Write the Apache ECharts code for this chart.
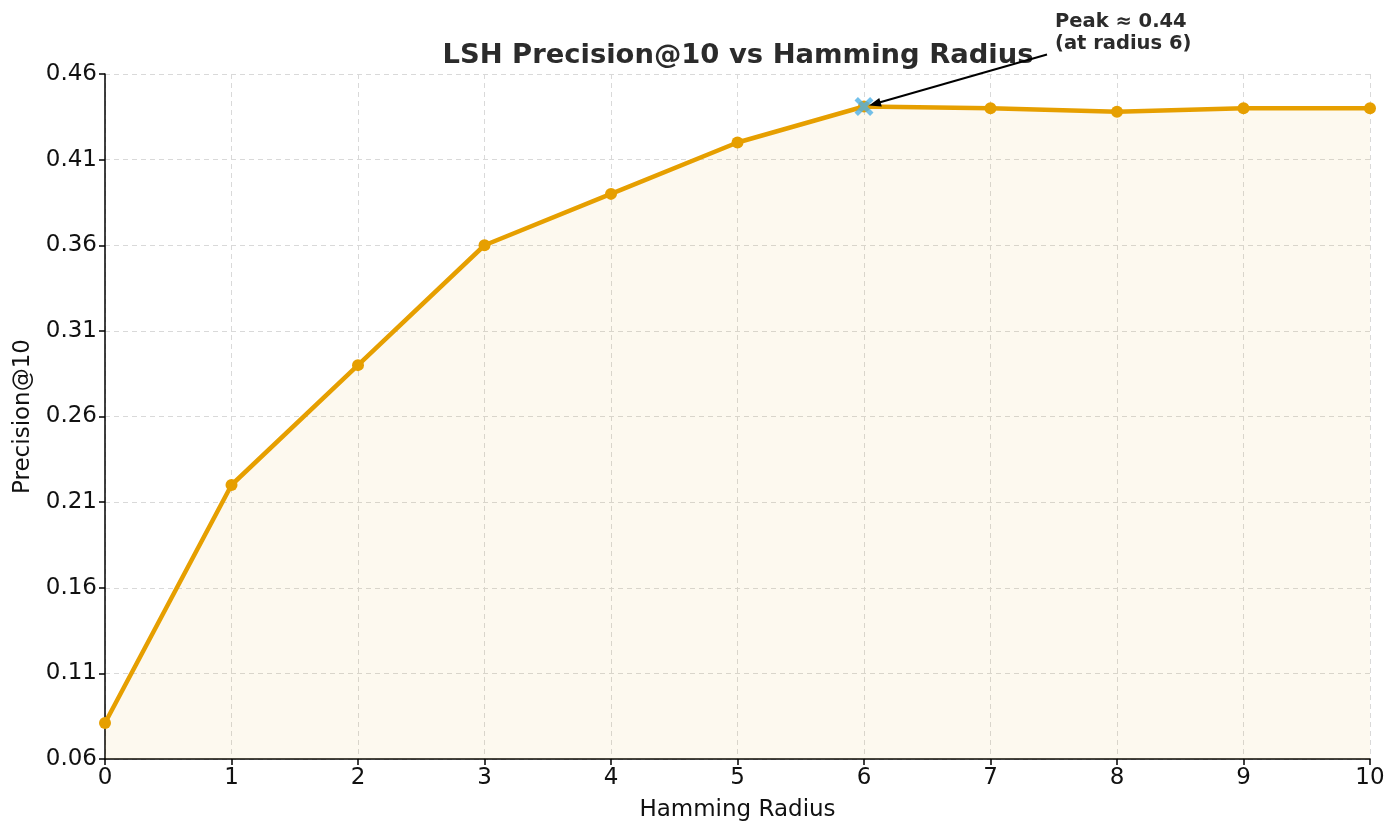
<!DOCTYPE html>
<html>
<head>
<meta charset="utf-8">
<script src="https://cdn.jsdelivr.net/npm/echarts@6/dist/echarts.min.js"></script>
<style>
  html, body { margin: 0; padding: 0; background: #fff; }
  #chart { width: 1400px; height: 835px; }
</style>
</head>
<body>
<div id="chart"></div>
<script>
// data
const radius = [0, 1, 2, 3, 4, 5, 6, 7, 8, 9, 10];
const precision = [0.081, 0.220, 0.290, 0.360, 0.390, 0.420, 0.441, 0.440, 0.438, 0.440, 0.440];
const peakIndex = 6;
const peakText = 'Peak ≈ 0.44\n(at radius 6)';

const font = 'DejaVu Sans';
const chart = echarts.init(document.getElementById('chart'));

chart.setOption({
    animation: false,
    backgroundColor: '#fff',
    title: {
        text: 'LSH Precision@10 vs Hamming Radius',
        left: 733, top: 37, textAlign: 'center',
        textStyle: {fontFamily: font, fontSize: 27.4, fontWeight: 'bold', color: '#2b2b2b'}
    },
    grid: {left: 105, right: 30, top: 74, bottom: 76, containLabel: false, outerBoundsMode: 'none'},
    xAxis: {
        type: 'value', min: 0, max: 10, interval: 1,
        name: 'Hamming Radius', nameLocation: 'middle', nameGap: 40,
        nameTextStyle: {fontFamily: font, fontSize: 23, color: '#111'},
        axisLine: {onZero: false, lineStyle: {color: '#000', width: 1.5}},
        axisTick: {show: true, length: 6, lineStyle: {color: '#000', width: 1.5}},
        axisLabel: {fontFamily: font, fontSize: 23, color: '#111', margin: 8},
        splitLine: {show: true, lineStyle: {color: '#d9d9d9', type: [5, 4], width: 1}}
    },
    yAxis: {
        type: 'value', min: 0.06, max: 0.46, interval: 0.05,
        name: 'Precision@10', nameLocation: 'middle', nameGap: 65,
        nameTextStyle: {fontFamily: font, fontSize: 23, color: '#111'},
        axisLine: {show: true, lineStyle: {color: '#000', width: 1.5}},
        axisTick: {show: true, length: 6, lineStyle: {color: '#000', width: 1.5}},
        axisLabel: {fontFamily: font, fontSize: 23, color: '#111', margin: 8,
            formatter: v => v.toFixed(2)},
        splitLine: {show: true, lineStyle: {color: '#d9d9d9', type: [5, 4], width: 1}}
    },
    series: [
        {
            type: 'line',
            data: radius.map((r, i) => [r, precision[i]]),
            symbol: 'circle', symbolSize: 12,
            lineStyle: {color: '#E69F00', width: 4.5},
            itemStyle: {color: '#E69F00'},
            areaStyle: {color: 'rgba(230,159,0,0.09)', origin: 'start'},
            z: 3
        },
        {
            type: 'scatter',
            data: [[radius[peakIndex], precision[peakIndex]]],
            symbol: 'path://M1.8,0 L5,3.2 L8.2,0 L10,1.8 L6.8,5 L10,8.2 L8.2,10 L5,6.8 L1.8,10 L0,8.2 L3.2,5 L0,1.8 Z',
            symbolSize: 19,
            itemStyle: {color: '#4FB0E6'},
            z: 5
        }
    ]
});

// annotation arrow + text
const p = chart.convertToPixel({gridIndex: 0}, [radius[peakIndex], precision[peakIndex]]);
const start = [p[0] + 183, p[1] - 52];
const end = [p[0] + 5, p[1] - 1];
const ang = Math.atan2(end[1] - start[1], end[0] - start[0]);
const hl = 12, hw = 4.5;
const head = [
    end,
    [end[0] - hl * Math.cos(ang) + hw * Math.sin(ang), end[1] - hl * Math.sin(ang) - hw * Math.cos(ang)],
    [end[0] - hl * Math.cos(ang) - hw * Math.sin(ang), end[1] - hl * Math.sin(ang) + hw * Math.cos(ang)]
];
chart.setOption({
    graphic: [
        {type: 'line', shape: {x1: start[0], y1: start[1], x2: end[0] - 8 * Math.cos(ang), y2: end[1] - 8 * Math.sin(ang)},
            style: {stroke: '#000', lineWidth: 2}, z: 10},
        {type: 'polygon', shape: {points: head}, style: {fill: '#000'}, z: 10},
        {type: 'text', left: p[0] + 191, top: p[1] - 96, z: 10,
            style: {text: peakText, font: 'bold 19.5px "DejaVu Sans"', fill: '#2b2b2b', lineHeight: 22}}
    ]
});
</script>
</body>
</html>
